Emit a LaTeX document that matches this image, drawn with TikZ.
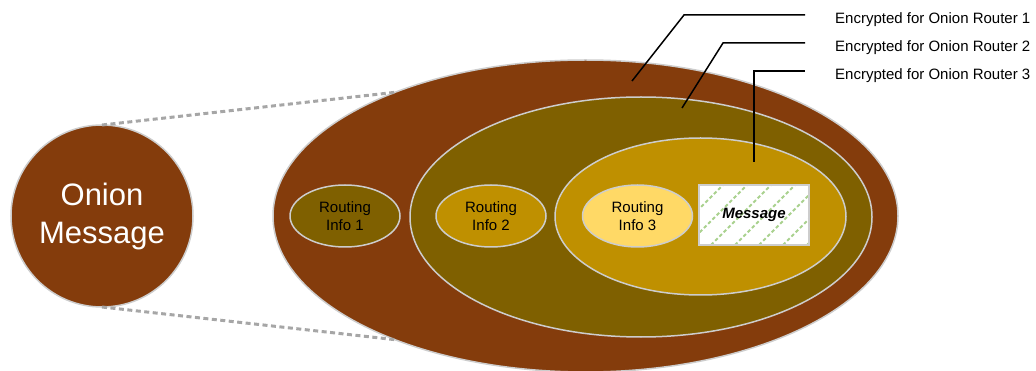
\documentclass[tikz,border=0pt]{standalone}
\usepackage{fontspec}
\setmainfont{Liberation Sans}
\usetikzlibrary{shapes.geometric,positioning}
\definecolor{onioncol}{RGB}{132,60,12}
\definecolor{olivecol}{RGB}{127,96,0}
\definecolor{goldcol}{RGB}{191,144,0}
\definecolor{palecol}{RGB}{255,217,102}
\definecolor{rimcol}{RGB}{205,205,205}
\definecolor{hatchcol}{RGB}{169,209,142}
\definecolor{zoomcol}{RGB}{166,166,166}

\begin{document}
\begin{tikzpicture}[x=1pt,y=-1pt,
  layer/.style={ellipse,draw=rimcol,line width=1.5pt,inner sep=0pt,outer sep=0pt},
  info/.style={layer,minimum width=110pt,minimum height=62pt,align=center,
    font=\fontsize{15}{18}\selectfont},
  lbl/.style={font=\fontsize{15}{17}\selectfont,inner sep=0pt},
  leader/.style={line width=1.5pt},
  zoomline/.style={zoomcol,line width=3pt,dash pattern=on 5pt off 3.5pt}]
  \useasboundingbox (0,0) rectangle (1036,371);

  % the onion, outer layer first
  \node[layer,fill=onioncol,minimum width=625pt,minimum height=312pt] (layer1) at (585.5,216) {};
  \node[layer,fill=olivecol,minimum width=462pt,minimum height=240pt] (layer2) at (641,217) {};
  \node[layer,fill=goldcol,minimum width=291pt,minimum height=157pt] (layer3) at (700.5,216.5) {};

  \node[info,fill=olivecol] (info1) at (345,216) {Routing\\Info 1};
  \node[info,fill=goldcol] (info2) at (491,216) {Routing\\Info 2};
  \node[info,fill=palecol] (info3) at (637.5,216) {Routing\\Info 3};

  % payload box, hatched
  \node[draw=rimcol,line width=2pt,fill=white,minimum width=110pt,minimum height=60pt,
    font=\fontsize{15}{17}\selectfont\bfseries\itshape,
    path picture={
      \foreach \i in {0,...,7}
        \draw[hatchcol,line width=2pt,dash pattern=on 3.5pt off 2.5pt]
          ([xshift=\i*24pt-60pt]path picture bounding box.south west) -- ++(70,-70);
    }] (msg) at (754,215) {Message};

  % whole message, zoomed out
  \node[circle,draw=rimcol,line width=1.5pt,fill=onioncol,minimum size=182pt,inner sep=0pt,
    outer sep=0pt,text=white,align=center,font=\fontsize{31}{38}\selectfont] (onion) at (102,216)
    {Onion\\Message};
  \draw[zoomline] (onion.north) -- (layer1.147);
  \draw[zoomline] (onion.south) -- (layer1.213);

  % leaders to the layer labels
  \coordinate (tip1) at (632,81);
  \coordinate (tip2) at (682,108);
  \coordinate (tip3) at (754,162);
  \coordinate (end1) at (805,15);
  \coordinate (end2) at (805,43);
  \coordinate (end3) at (805,71);
  \draw[leader] (tip1) -- (684,15) -- (end1);
  \draw[leader] (tip2) -- (723,43) -- (end2);
  \draw[leader] (tip3) -- (754,71) -- (end3);
  \node[lbl,right=30pt of end1,yshift=-4.5pt] (enc1) {Encrypted for Onion Router 1};
  \node[lbl,right=30pt of end2,yshift=-4.5pt] (enc2) {Encrypted for Onion Router 2};
  \node[lbl,right=30pt of end3,yshift=-4.5pt] (enc3) {Encrypted for Onion Router 3};
\end{tikzpicture}
\end{document}
